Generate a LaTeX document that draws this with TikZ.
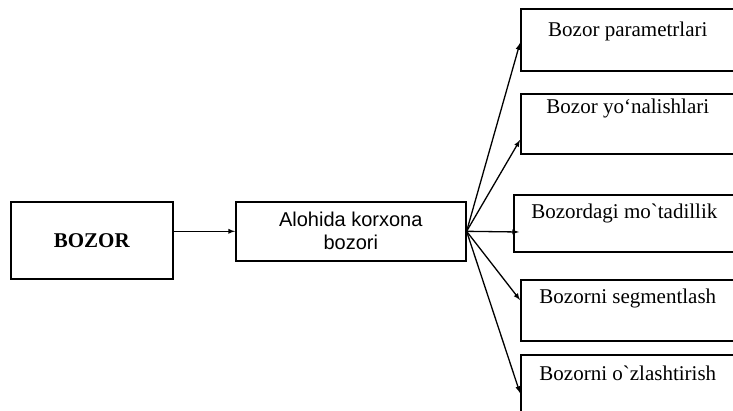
\documentclass[tikz,border=0pt]{standalone}
\usepackage{fontspec}
\setmainfont{Liberation Serif}[Ligatures=TeXOff]
\newfontfamily\arialfont{Liberation Sans}
\usetikzlibrary{shapes.geometric, arrows}
\tikzstyle{startbox} = [rectangle, minimum width=162pt, minimum height=77pt, text centered, draw=black, line width=1.6pt, anchor=north west, font=\fontsize{21}{24}\selectfont\bfseries]
\tikzstyle{process} = [rectangle, minimum width=230pt, minimum height=59pt, align=center, draw=black, line width=1.6pt, anchor=north west, font=\arialfont\fontsize{20}{23}\selectfont]
\tikzstyle{item} = [rectangle, minimum width=214pt, text height=14pt, inner ysep=10pt, text centered, draw=black, line width=1.6pt, anchor=north west, font=\fontsize{21}{24}\selectfont]
\tikzstyle{arrow} = [line width=1.3pt,->,>=latex]

\begin{document}
\begin{tikzpicture}[x=1pt, y=-1pt]
   \useasboundingbox (0,0) rectangle (733,410);
   \node (bozor) [startbox] at (10,201) {BOZOR};
   \node (alohida) [process] at (235,201) {Alohida korxona\\bozori};
   \node (p1) [item, inner ysep=14pt, text depth=20pt] at (520,8) {Bozor parametrlari};
   \node (p2) [item, inner ysep=6pt, text depth=34pt] at (520,93) {Bozor yo‘nalishlari};
   \node (p3) [item, minimum width=221pt, text depth=23pt] at (513,194) {Bozordagi mo`tadillik};
   \node (p4) [item, text depth=27pt] at (520,279) {Bozorni segmentlash};
   \node (p5) [item, inner ysep=12pt, text depth=22pt] at (520,354) {Bozorni o`zlashtirish};
   \draw [arrow] (bozor.east |- alohida.west) -- (alohida.west);
   \draw [arrow] (alohida.east) -- ([yshift=-35pt]p1.north west);
   \draw [arrow] (alohida.east) -- ([yshift=-47pt]p2.north west);
   \draw [arrow] (alohida.east) -- ([xshift=6pt,yshift=-38pt]p3.north west);
   \draw [arrow] (alohida.east) -- ([yshift=-21pt]p4.north west);
   \draw [arrow] (alohida.east) -- ([yshift=-39pt]p5.north west);
\end{tikzpicture}
\end{document}
